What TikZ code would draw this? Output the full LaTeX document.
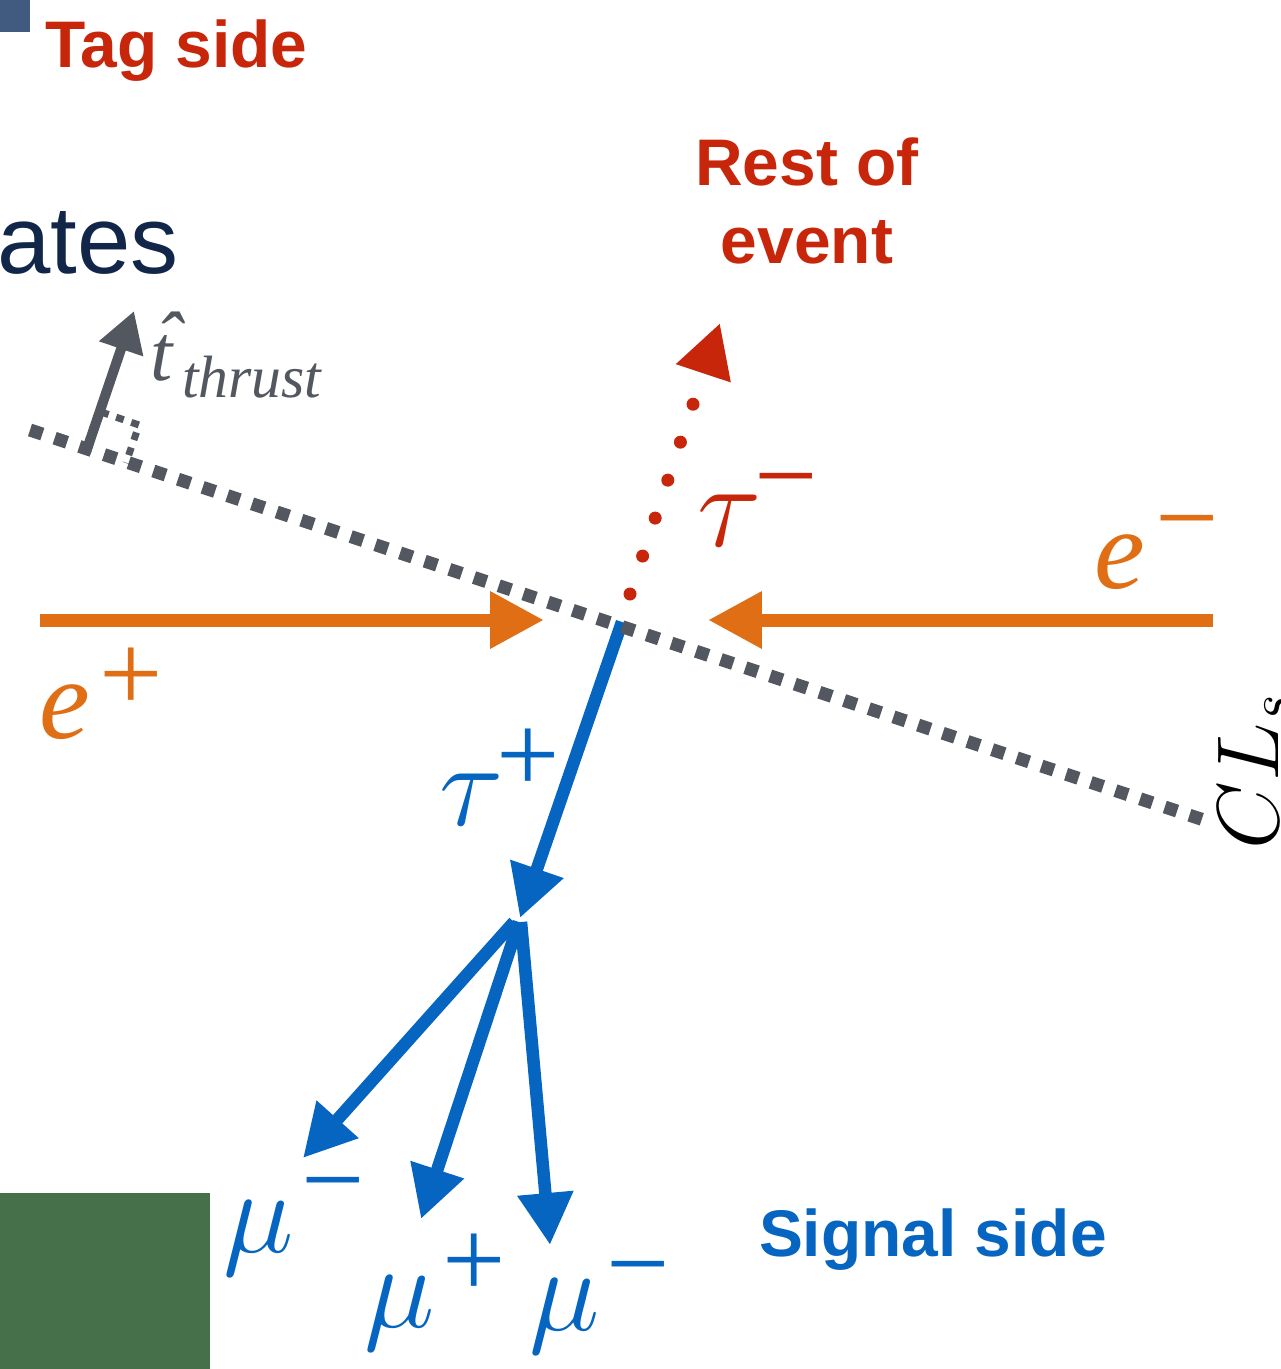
\RequirePackage{fix-cm}
\documentclass[tikz,border=0pt]{standalone}
\usepackage{fontspec}
\setmainfont{Liberation Serif}
\newfontfamily\helv{Liberation Sans}
\usetikzlibrary{arrows.meta}
\definecolor{tagred}{RGB}{200,38,10}
\definecolor{beamorange}{RGB}{224,110,20}
\definecolor{sigblue}{RGB}{5,101,192}
\definecolor{axisgray}{RGB}{83,88,96}
\definecolor{navyblue}{RGB}{18,38,74}
\definecolor{boxgreen}{RGB}{69,112,74}
\definecolor{boxslate}{RGB}{65,90,128}
\begin{document}
\begin{tikzpicture}[x=0.02cm,y=-0.02cm,
  titletext/.style={font=\helv\bfseries\fontsize{37.5}{44.3}\selectfont, inner sep=0, outer sep=0},
  symtext/.style={font=\itshape\fontsize{65}{78}\selectfont, inner sep=0, anchor=base west},
  greektext/.style={font=\fontsize{68}{80}\selectfont, inner sep=0, anchor=base west},
  suptext/.style={font=\fontsize{64}{76}\selectfont, inner sep=0, anchor=base},
  beamarrow/.style={beamorange, line width=0.26cm, -{Triangle[length=1.08cm,width=1.08cm]}},
  bluearrow/.style={sigblue, line width=0.25cm, -{Triangle[length=1.04cm,width=1.06cm]}},
  tagarrow/.style={tagred, line width=0.26cm, line cap=round, dash pattern=on 0pt off 0.8cm,
     -{Triangle[length=1.06cm,width=1.08cm,sharp]}},
  thrustaxis/.style={axisgray, line width=0.26cm, dash pattern=on 0.26cm off 0.26cm},
]
\useasboundingbox (0,0) rectangle (1281,1369);

% corner boxes
\fill[boxslate] (0,0) rectangle (30,32);
\fill[boxgreen] (0,1193) rectangle (210,1369);

% coordinates
\coordinate (epstart) at (40,620);
\coordinate (eptip) at (544,620);
\coordinate (emstart) at (1213,620);
\coordinate (emtip) at (708,620);
\coordinate (taumstart) at (630,594);
\coordinate (taumtip) at (720,323);
\coordinate (taupstart) at (622,622);
\coordinate (vtx) at (520,918);
\coordinate (mu1start) at (514,922);
\coordinate (mu1tip) at (303,1158);
\coordinate (mu2start) at (519,922);
\coordinate (mu2tip) at (421,1219);
\coordinate (mu3start) at (521,922);
\coordinate (mu3tip) at (550,1245);
\coordinate (axisL) at (30,430);
\coordinate (axisR) at (1210,822);
\coordinate (thrustfoot) at (86,452);
\coordinate (thrusttip) at (134,311);
\coordinate (ra1) at (101,412);
\coordinate (ra2) at (139,425);
\coordinate (ra3) at (126,463);

% texts
\node[titletext, text=tagred, anchor=base west] (tag) at (45,67) {Tag side};
\node[inner sep=0, anchor=base west, text=navyblue, font=\helv\fontsize{54.6}{60}\selectfont] (ates) at (-3,273) {ates};
\node[titletext, text=tagred, align=center, anchor=base] (roe) at (807,263) {Rest of\\event};
\node[titletext, text=sigblue, anchor=base west] (sig) at (759,1256) {Signal side};

% beams
\draw[beamarrow] (epstart) -- (eptip);
\draw[beamarrow] (emstart) -- (emtip);

% tag side tau
\draw[tagarrow] (taumstart) -- (taumtip);

% signal side
\draw[bluearrow] (taupstart) -- (vtx);
\draw[bluearrow] (mu1start) -- (mu1tip);
\draw[bluearrow] (mu2start) -- (mu2tip);
\draw[bluearrow] (mu3start) -- (mu3tip);

% thrust
\draw[thrustaxis] (axisL) -- (axisR);
\draw[axisgray, line width=0.2cm, -{Triangle[length=0.8cm,width=0.88cm]}] (thrustfoot) -- (thrusttip);
\draw[axisgray, line width=0.14cm, dash pattern=on 0.16cm off 0.16cm] (ra1) -- (ra2) -- (ra3);
\node[inner sep=0, anchor=base west, text=axisgray] (thr) at (150,380)
  {\fontsize{45.5}{50}\selectfont\itshape\rlap{\kern0.06em\raisebox{0.16em}{ˆ}}t\kern0.12em\raisebox{-0.34cm}{\fontsize{34}{40}\selectfont thrust}};

% particle labels
\node[symtext, text=beamorange] (ep) at (39,738) {e};
\node[suptext, text=beamorange] (eps) at (131.5,711) {+};
\node[symtext, text=beamorange] (em) at (1094,588) {e};
\node[suptext, text=beamorange] (ems) at (1187.5,555) {−};
\node[greektext, text=tagred] (taum) at (697,546) {$\tau$};
\node[suptext, text=tagred] (taums) at (786.5,513) {−};
\node[greektext, text=sigblue] (taup) at (439,825) {$\tau$};
\node[suptext, text=sigblue] (taups) at (528.5,792) {+};
\node[greektext, text=sigblue] (mu1) at (223,1252) {$\mu$};
\node[suptext, text=sigblue] (mu1s) at (333.5,1217) {−};
\node[greektext, text=sigblue] (mu2) at (364,1327) {$\mu$};
\node[suptext, text=sigblue] (mu2s) at (474,1297) {+};
\node[greektext, text=sigblue] (mu3) at (529,1330) {$\mu$};
\node[suptext, text=sigblue] (mu3s) at (638.5,1301) {−};

\node[rotate=90, anchor=base west, inner sep=0, font=\fontsize{50}{60}\selectfont] (cls) at (1278,850) {$CL_s$};
\end{tikzpicture}
\end{document}
